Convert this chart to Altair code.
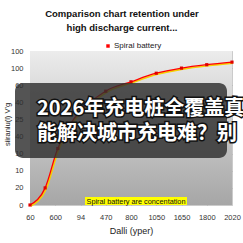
import altair as alt
import pandas as pd

# Axis tick labels (category order along x, gridline order along y from the bottom)
x_labels = ["60", "600", "94", "470", "800", "1050", "1650", "1800", "2020"]
y_labels = ["0", "20", "10", "10", "40", "25", "40", "60", "100", "100"]

# Spiral battery series: position along the x grid and value in y grid units
series_pos = [0.0, 0.6, 1.1, 3.0, 4.0, 5.0, 6.0, 7.0, 8.0]
series_val = [0.0, 1.0, 3.3, 6.65, 7.2, 7.7, 8.0, 8.2, 8.35]

title_lines = ["Comparison chart retention under", "high discharge current..."]
legend_label = "Spiral battery"
note_text = "Spiral battery are concentation"
overlay_lines = ["2026年充电桩全覆盖真", "能解决城市充电难？别"]

W, H = 202, 154
FONT = "Liberation Sans"
CJK = "Noto Sans CJK SC"

df = pd.DataFrame({"pos": series_pos, "val": series_val})
one = pd.DataFrame({"k": [0]})

x_lab_expr = "[" + ",".join(f"'{s}'" for s in x_labels) + "][datum.value]"
y_lab_expr = "[" + ",".join(f"'{s}'" for s in y_labels) + "][datum.value]"

x_enc = alt.X(
    "pos:Q",
    scale=alt.Scale(domain=[0, 8], nice=False, zero=False),
    axis=alt.Axis(
        values=list(range(9)), labelExpr=x_lab_expr, ticks=False, domain=False,
        grid=True, gridColor="#8c8c8c", gridOpacity=0.45, labelFont=FONT,
        labelFontSize=7.5, labelColor="#333333", labelPadding=8,
        labelFlush=False, labelOverlap=False,
        title="Dalli (yper)", titleFont=FONT, titleFontSize=9,
        titleFontWeight="normal", titleColor="#222222", titleX=W / 2,
        titleY=25, titleBaseline="middle",
    ),
)
y_enc = alt.Y(
    "val:Q",
    scale=alt.Scale(domain=[0, 9], nice=False, zero=False),
    axis=alt.Axis(
        values=list(range(10)), labelExpr=y_lab_expr, ticks=False, domain=False,
        grid=True, gridColor="#8c8c8c", gridOpacity=0.45, labelFont=FONT,
        labelFontSize=7.5, labelColor="#333333", labelPadding=7,
        labelFlush=False, labelOverlap=False,
        title="siiraniu(l) V'g", titleFont=FONT, titleFontSize=7.5,
        titleFontWeight="normal", titleColor="#222222", titleX=-23,
        titleY=H / 2 - 4, titleAngle=270, titleBaseline="middle",
    ),
)

# Plot background: vertical grey gradient
background = alt.Chart(one).mark_rect(
    fill=alt.Gradient(
        gradient="linear", x1=0, y1=0, x2=0, y2=1,
        stops=[alt.GradientStop(color="#ececec", offset=0),
               alt.GradientStop(color="#a6a6a6", offset=1)],
    )
).encode(x=alt.value(0), x2=alt.value(W), y=alt.value(0), y2=alt.value(H))

shadow = alt.Chart(df).mark_line(
    color="#f5d000", strokeWidth=1.6, interpolate="monotone", xOffset=1, yOffset=1
).encode(x=x_enc, y=y_enc)

line = alt.Chart(df).mark_line(
    color="#ff0000", strokeWidth=1.3, interpolate="monotone"
).encode(x=x_enc, y=y_enc)

points = alt.Chart(df).mark_point(
    shape="square", filled=True, color="#e00000", size=10, opacity=1
).encode(x=x_enc, y=y_enc)

# Title lines
title_df = pd.DataFrame({"t": title_lines, "yy": [-37, -23]})
title = alt.Chart(title_df).mark_text(
    font=FONT, fontSize=9.5, fontWeight="bold", color="#111111", baseline="middle",
    align="center"
).encode(text="t:N", x=alt.value(W / 2 - 9), y=alt.Y("yy:Q", scale=None, axis=None))

# Legend
legend_mark = alt.Chart(one).mark_square(color="#ff0000", size=12, opacity=1).encode(
    x=alt.value(78), y=alt.value(-5))
legend_text = alt.Chart(one).mark_text(
    font=FONT, fontSize=8, color="#222222", align="left", baseline="middle"
).encode(x=alt.value(84), y=alt.value(-5), text=alt.value(legend_label))

# Yellow note at the bottom of the plot
note_box = alt.Chart(one).mark_rect(color="#ffff00").encode(
    x=alt.value(55), x2=alt.value(157), y=alt.value(146), y2=alt.value(154))
note = alt.Chart(one).mark_text(
    font=FONT, fontSize=7.3, color="#111111", align="center", baseline="middle"
).encode(x=alt.value(106), y=alt.value(150.5), text=alt.value(note_text))

# Caption banner across the middle
banner = alt.Chart(one).mark_rect(
    color="#2e2e2e", opacity=0.82, cornerRadius=8
).encode(x=alt.value(-15), x2=alt.value(197), y=alt.value(32), y2=alt.value(107))

cap_df = pd.DataFrame({"t": overlay_lines, "yy": [58, 83]})
cap_outline = alt.Chart(cap_df).mark_text(
    font=CJK, fontSize=20, fontWeight="bold", color="#111111", stroke="#111111",
    strokeWidth=3, align="left", baseline="middle"
).encode(text="t:N", x=alt.value(7), y=alt.Y("yy:Q", scale=None, axis=None))
cap_text = alt.Chart(cap_df).mark_text(
    font=CJK, fontSize=20, fontWeight="bold", color="#ffffff", align="left",
    baseline="middle"
).encode(text="t:N", x=alt.value(7), y=alt.Y("yy:Q", scale=None, axis=None))

chart = alt.layer(
    background, shadow, line, points, note_box, note, title, legend_mark,
    legend_text, banner, cap_outline, cap_text,
).properties(
    width=W, height=H, background="#ffffff",
    autosize=alt.AutoSizeParams(type="none"),
    padding={"left": 30, "top": 51, "right": 11, "bottom": 38},
).configure_view(stroke=None)

chart.save("out.html", embed_options={"renderer": "svg", "actions": False})
